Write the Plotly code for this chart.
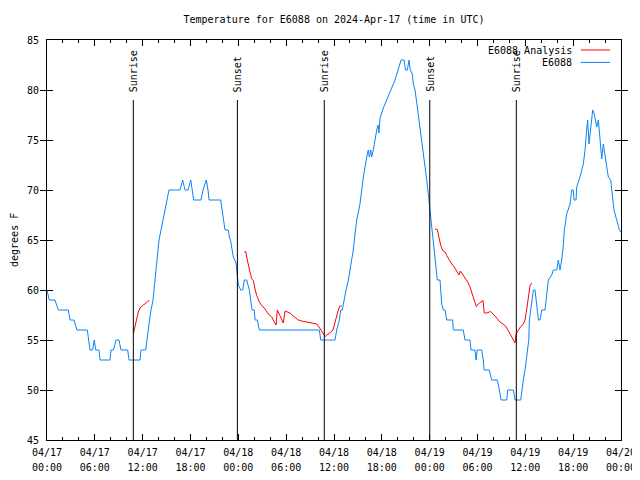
import pandas as pd
import plotly.graph_objects as go

BASE = pd.Timestamp("2024-04-17 00:00")

# Observed temperature (E6088), hours since 2024-04-17 00:00 UTC
blue_hours = [0.0, 0.29, 1.0, 1.42, 2.67, 2.89, 3.39, 3.76, 5.06, 5.21, 5.39, 5.71, 5.93, 6.11, 6.52, 6.65,
              7.90, 8.03, 8.34, 8.66, 9.03, 9.28, 10.12, 10.29, 11.67, 11.79, 12.38, 12.54, 12.67, 12.86,
              13.05, 13.30, 13.42, 13.55, 13.67, 13.80, 13.92, 14.05, 14.30, 14.55, 14.80, 15.05, 15.30,
              16.68, 17.02, 17.31, 17.69, 18.03, 18.19, 18.40, 19.32, 19.57, 19.98, 20.20, 20.32, 21.79,
              21.91, 22.04, 22.20, 22.33, 22.74, 22.87, 23.02, 23.17, 23.37, 23.71, 23.88, 24.0, 24.30,
              24.55, 24.75, 25.05, 25.38, 25.55, 25.72, 26.0, 26.10, 26.39, 26.63, 34.16, 34.33, 36.13,
              36.34, 36.67, 36.84, 37.04, 37.26, 37.51, 37.80, 38.01, 38.22, 38.42, 38.64, 38.85, 39.26,
              39.68, 40.10, 40.30, 40.43, 40.61, 40.73, 40.93, 41.36, 41.52, 41.65, 41.77, 42.19, 42.61,
              43.24, 43.65, 44.07, 44.41, 44.79, 44.97, 45.20, 45.41, 45.57, 45.82, 45.95, 46.16, 46.45,
              46.79, 47.08, 47.42, 47.63, 47.83, 48.01, 48.17, 48.26, 48.46, 48.67, 48.96, 49.30, 49.51,
              49.71, 49.93, 50.14, 50.89, 50.96, 52.22, 52.43, 53.06, 53.19, 53.69, 53.81, 53.98, 54.53,
              54.73, 54.82, 55.48, 55.78, 56.49, 56.74, 56.95, 57.67, 57.79, 58.50, 58.71, 59.42, 59.55,
              59.75, 59.96, 60.09, 60.25, 60.43, 60.51, 60.68, 60.81, 61.01, 61.22, 61.44, 61.64, 61.85,
              62.06, 62.47, 62.68, 62.89, 63.31, 63.51, 63.94, 64.14, 64.35, 64.56, 64.77, 64.89, 65.19,
              65.61, 65.82, 66.02, 66.11, 66.36, 66.45, 66.86, 67.27, 67.49, 67.70, 67.82, 67.99, 68.20,
              68.45, 68.65, 68.96, 69.16, 69.37, 69.58, 69.78, 69.99, 70.21, 70.41, 70.71, 70.91, 71.12,
              71.46, 71.79, 72.0]
blue_temps = [60, 59, 59, 58, 58, 57, 57, 56, 56, 55, 54, 54, 55, 54, 54, 53,
              53, 54, 54, 55, 55, 54, 54, 53, 53, 54, 54, 55, 56, 57,
              58, 59, 60, 61, 62, 63, 64, 65, 66, 67, 68, 69, 70,
              70, 71, 70, 70, 71, 70, 69, 69, 70, 71, 70, 69, 69,
              68.3, 67.6, 66.8, 66, 66, 65.3, 65, 64, 63.3, 62.7, 61.7, 60.5, 60,
              60, 61, 61, 60, 59, 58, 58, 57, 57, 56, 56, 55, 55,
              56, 57, 58, 58, 59, 60, 61, 62, 63, 64, 65.6, 67, 68.6,
              71.3, 73.3, 74, 73.3, 74, 73.3, 74, 76, 76.5, 75.7, 77.2, 78.2, 79,
              80.1, 81, 82.1, 83, 83, 82, 82, 83, 82, 81.6, 80.6, 80, 78.3,
              76.3, 74.3, 72.6, 71, 69.6, 68.3, 66.6, 66, 64.6, 63.3, 61, 61, 58.6,
              58, 58, 57, 57, 56, 56, 55, 55, 54, 54, 53, 54, 54,
              53, 52, 52, 51, 51, 50, 49, 49, 50, 50, 49, 49, 50,
              51, 52, 53, 54, 55, 57, 58, 59, 60, 60, 58, 57, 57,
              58, 58, 59.5, 61, 61.5, 62, 62, 63, 62, 63, 64.5, 66, 67.6,
              68.6, 70, 70, 69, 69, 70.3, 71.3, 72.6, 74, 76.1, 77, 74.6, 76,
              78, 77.6, 76.3, 77, 75, 73.1, 74.6, 73.4, 72, 71.3, 71, 69.6, 68,
              67, 66, 65.8]

# Analysis series (three separate runs)
red_hours_1 = [10.83, 11.04, 11.25, 11.45, 11.67, 12.0, 12.29, 12.58, 12.83]
red_temps_1 = [55.6, 56.5, 57.1, 57.8, 58.2, 58.45, 58.6, 58.85, 58.95]
red_hours_2 = [24.75, 24.93, 25.05, 25.25, 25.46, 25.68, 25.88, 26.09, 26.31, 26.63, 26.93, 27.35,
               27.76, 28.19, 28.48, 28.73, 28.89, 29.23, 29.44, 29.64, 29.86, 30.14, 30.48, 30.82,
               31.11, 31.52, 31.95, 32.58, 33.40, 33.83, 34.12, 34.33, 34.58, 34.75, 34.87, 35.09,
               35.41, 35.71, 35.91, 36.13, 36.34, 36.54, 36.75, 36.97]
red_temps_2 = [63.8, 63.85, 63.3, 62.45, 61.8, 61.1, 60.95, 60.1, 59.45, 58.8, 58.45, 58.1,
               57.6, 57.3, 56.8, 56.5, 58.0, 57.35, 57.0, 56.7, 57.9, 57.8, 57.7, 57.45,
               57.3, 57.0, 56.9, 56.8, 56.7, 56.6, 56.3, 56.05, 55.8, 55.6, 55.35, 55.5,
               55.7, 55.85, 56.1, 56.8, 57.45, 58.0, 58.4, 58.4]
red_hours_3 = [48.67, 48.96, 49.21, 49.39, 49.64, 49.93, 50.14, 50.43, 50.77, 51.05, 51.39, 51.68,
               51.85, 52.15, 52.43, 52.77, 53.06, 53.27, 53.56, 53.85, 54.10, 54.44, 54.69, 54.85,
               55.15, 55.66, 55.98, 56.41, 56.82, 57.45, 57.74, 58.08, 58.42, 58.71, 58.83, 59.12,
               59.42, 59.75, 59.96, 60.18, 60.38, 60.59, 60.81]
red_temps_3 = [66.1, 66.05, 65.1, 64.45, 63.95, 63.8, 63.45, 63.0, 62.6, 62.35, 61.95, 61.5,
               61.9, 61.55, 61.1, 60.8, 60.3, 59.8, 59.1, 58.35, 58.6, 58.8, 58.95, 57.7,
               57.7, 57.85, 57.6, 57.2, 56.8, 56.45, 56.1, 55.6, 55.1, 54.7, 55.6, 56.0,
               56.35, 56.6, 57.0, 58.1, 59.3, 60.45, 60.7]

event_hours = [10.83, 23.88, 34.78, 48.01, 58.87]
event_labels = ["Sunrise", "Sunset", "Sunrise", "Sunset", "Sunrise"]
event_low, event_high = 45, 79

y_ticks = [45, 50, 55, 60, 65, 70, 75, 80, 85]

FONT = "DejaVu Sans Mono"
BLUE = "#0a84f5"
RED = "#ff0000"

# page body has an 8px margin; offset so the plot lands where the reference has it
PAGE_OFF = 8


def to_time(hours):
    return [BASE + pd.Timedelta(hours=h) for h in hours]


red_x, red_y = [], []
for hs, ts in [(red_hours_1, red_temps_1), (red_hours_2, red_temps_2), (red_hours_3, red_temps_3)]:
    red_x += to_time(hs) + [None]
    red_y += ts + [None]

ev_x, ev_y = [], []
for h in event_hours:
    t = BASE + pd.Timedelta(hours=h)
    ev_x += [t, t, None]
    ev_y += [event_low, event_high, None]

fig = go.Figure()
fig.add_trace(go.Scatter(x=ev_x, y=ev_y, mode="lines", line=dict(color="black", width=1),
                         showlegend=False, hoverinfo="skip", xaxis="x2", yaxis="y"))
fig.add_trace(go.Scatter(x=to_time(blue_hours), y=blue_temps, mode="lines", name="E6088",
                         line=dict(color=BLUE, width=1), showlegend=False))
fig.add_trace(go.Scatter(x=red_x, y=red_y, mode="lines", name="E6088 Analysis",
                         line=dict(color=RED, width=1), showlegend=False, connectgaps=False))

annotations = []
for h, lab in zip(event_hours, event_labels):
    annotations.append(dict(x=BASE + pd.Timedelta(hours=h), y=event_high, xref="x", yref="y",
                            text=lab, textangle=-90, showarrow=False, xanchor="center",
                            yanchor="bottom", yshift=6, font=dict(family=FONT, size=10, color="black")))

# legend (text left, sample line right)
leg = [("E6088 Analysis", RED, 0.975), ("E6088", BLUE, 0.944)]
shapes = []
for name, col, yy in leg:
    annotations.append(dict(x=0.918, y=yy, xref="paper", yref="paper", text=name, showarrow=False,
                            xanchor="right", yanchor="middle", font=dict(family=FONT, size=10, color="black")))
    shapes.append(dict(type="line", xref="paper", yref="paper", x0=0.930, x1=0.981, y0=yy, y1=yy,
                       line=dict(color=col, width=1)))

annotations.append(dict(x=-0.0575, y=0.5, xref="paper", yref="paper", text="degrees F", textangle=-90,
                        showarrow=False, xanchor="center", yanchor="middle",
                        font=dict(family=FONT, size=10, color="black")))

fig.update_layout(
    width=640, height=480,
    margin=dict(l=47 - PAGE_OFF, r=19 + PAGE_OFF, t=40 - PAGE_OFF, b=40 + PAGE_OFF),
    paper_bgcolor="white", plot_bgcolor="white",
    font=dict(family=FONT, size=10, color="black"),
    title=dict(text="Temperature for E6088 on 2024-Apr-17 (time in UTC)", x=0.5, xref="paper",
               y=1 - (19 - PAGE_OFF) / 480, yref="container", yanchor="middle", xanchor="center",
               font=dict(family=FONT, size=10, color="black")),
    annotations=annotations, shapes=shapes,
    showlegend=False,
)
xrange = [BASE, BASE + pd.Timedelta(hours=72)]
fig.update_layout(
    xaxis=dict(
        type="date", range=xrange, automargin=False,
        tick0=BASE, dtick=6 * 3600 * 1000, tickformat="%m/%d", ticklabelstandoff=3,
        ticks="inside", ticklen=6, tickcolor="black", showline=True, linecolor="black", linewidth=1,
        mirror="allticks", showgrid=False, zeroline=False,
        minor=dict(dtick=2 * 3600 * 1000, ticks="inside", ticklen=3, tickcolor="black", showgrid=False),
        tickfont=dict(family=FONT, size=10, color="black"),
    ),
    xaxis2=dict(
        type="date", range=xrange, automargin=False, overlaying="x", matches="x", anchor="y",
        side="bottom", tick0=BASE, dtick=6 * 3600 * 1000, tickformat="%H:%M", ticklabelstandoff=20,
        ticks="", showline=False, showgrid=False, zeroline=False,
        tickfont=dict(family=FONT, size=10, color="black"),
    ),
    yaxis=dict(
        range=[45, 85], tickvals=y_ticks, ticks="inside", ticklen=6, tickcolor="black", automargin=False,
        ticklabelstandoff=5,
        showline=True, linecolor="black", linewidth=1, mirror="allticks", showgrid=False, zeroline=False,
        tickfont=dict(family=FONT, size=10, color="black"),
    ),
)

fig.write_html("out.html")
